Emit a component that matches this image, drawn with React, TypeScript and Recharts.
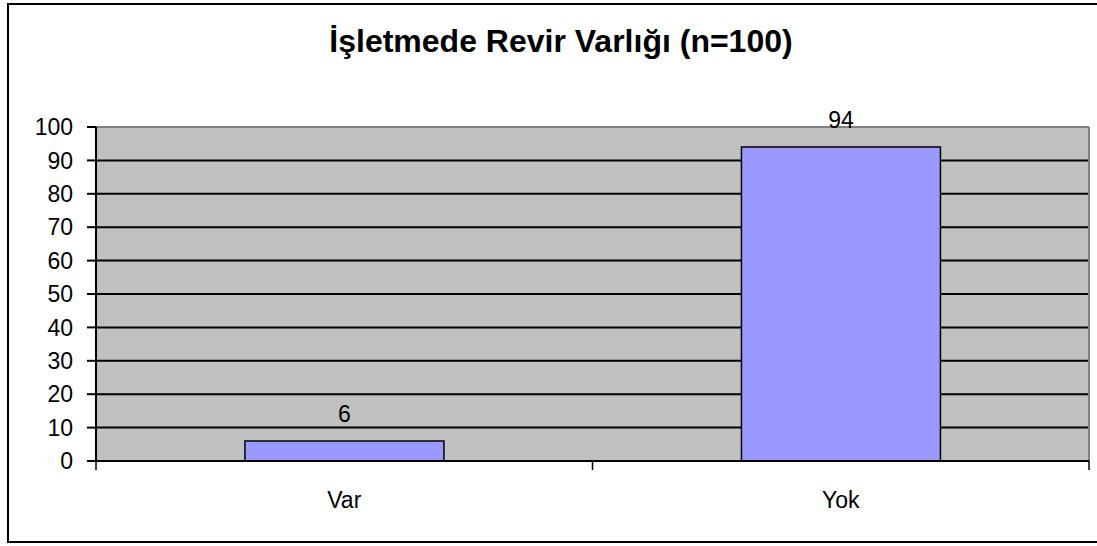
import { BarChart, Bar, XAxis, YAxis, CartesianGrid, LabelList, ReferenceLine } from 'recharts'

const categories = ['Var', 'Yok']
const counts = [6, 94]
const yTicks = [0, 10, 20, 30, 40, 50, 60, 70, 80, 90, 100]

const title = 'İşletmede Revir Varlığı (n=100)'
const font = '"Liberation Sans", Arial, sans-serif'

const data = categories.map((name, i) => ({ name, value: counts[i] }))

// x ticks sit between the categories (Excel style), labels stay centred
function CategoryTick(props: any) {
  const { x, y, payload, index, visibleTicksCount } = props
  const half = payload && payload.offset != null ? payload.offset : 0
  return (
    <g>
      <line x1={x - half} x2={x - half} y1={y - 9} y2={y} stroke="#000" strokeWidth={1.5} />
      {index === visibleTicksCount - 1 && (
        <line x1={x + half} x2={x + half} y1={y - 9} y2={y} stroke="#000" strokeWidth={1.5} />
      )}
      <text x={x} y={y + 38} textAnchor="middle" fill="#000" fontSize={23} fontFamily={font}>
        {payload.value}
      </text>
    </g>
  )
}

export default function App() {
  return (
    <div
      style={{
        position: 'fixed',
        left: 0,
        top: 0,
        width: 1097,
        height: 546,
        overflow: 'hidden',
        background: '#fff',
        fontFamily: font,
      }}
    >
      <div
        style={{
          position: 'absolute',
          left: 7,
          top: 3,
          width: 1110,
          height: 540,
          border: '2px solid #000',
          boxSizing: 'border-box',
        }}
      />
      <div
        style={{
          position: 'absolute',
          left: 0,
          top: 25,
          width: 1122,
          textAlign: 'center',
          fontSize: 32,
          lineHeight: '32px',
          fontWeight: 'bold',
          color: '#000',
        }}
      >
        {title}
      </div>
      <div style={{ position: 'absolute', left: 0, top: 0 }}>
        <BarChart
          width={1097}
          height={546}
          data={data}
          margin={{ top: 127, right: 8, bottom: 0, left: 0 }}
          barCategoryGap="30%"
        >
          <CartesianGrid fill="#C0C0C0" vertical={false} stroke="#000" strokeWidth={2} />
          <CartesianGrid
            horizontal={false}
            verticalCoordinatesGenerator={({ offset }: any) => [offset.left + offset.width]}
            stroke="#808080"
            strokeWidth={2}
          />
          <XAxis
            dataKey="name"
            height={85}
            axisLine={{ stroke: '#000', strokeWidth: 2 }}
            tickLine={false}
            tickSize={9}
            tickMargin={0}
            interval={0}
            tick={<CategoryTick />}
          />
          <YAxis
            width={96}
            domain={[0, 100]}
            ticks={yTicks}
            interval={0}
            axisLine={{ stroke: '#000', strokeWidth: 2 }}
            tickLine={{ stroke: '#000', strokeWidth: 2 }}
            tickSize={9}
            tickMargin={14}
            tick={{ fontSize: 23, fill: '#000', fontFamily: font }}
          />
          <ReferenceLine y={100} stroke="#808080" strokeWidth={2} />
          <Bar dataKey="value" fill="#9999FF" stroke="#000" strokeWidth={1.5} isAnimationActive={false}>
            <LabelList dataKey="value" position="top" offset={19} fill="#000" fontSize={23} fontFamily={font} />
          </Bar>
        </BarChart>
      </div>
    </div>
  )
}
